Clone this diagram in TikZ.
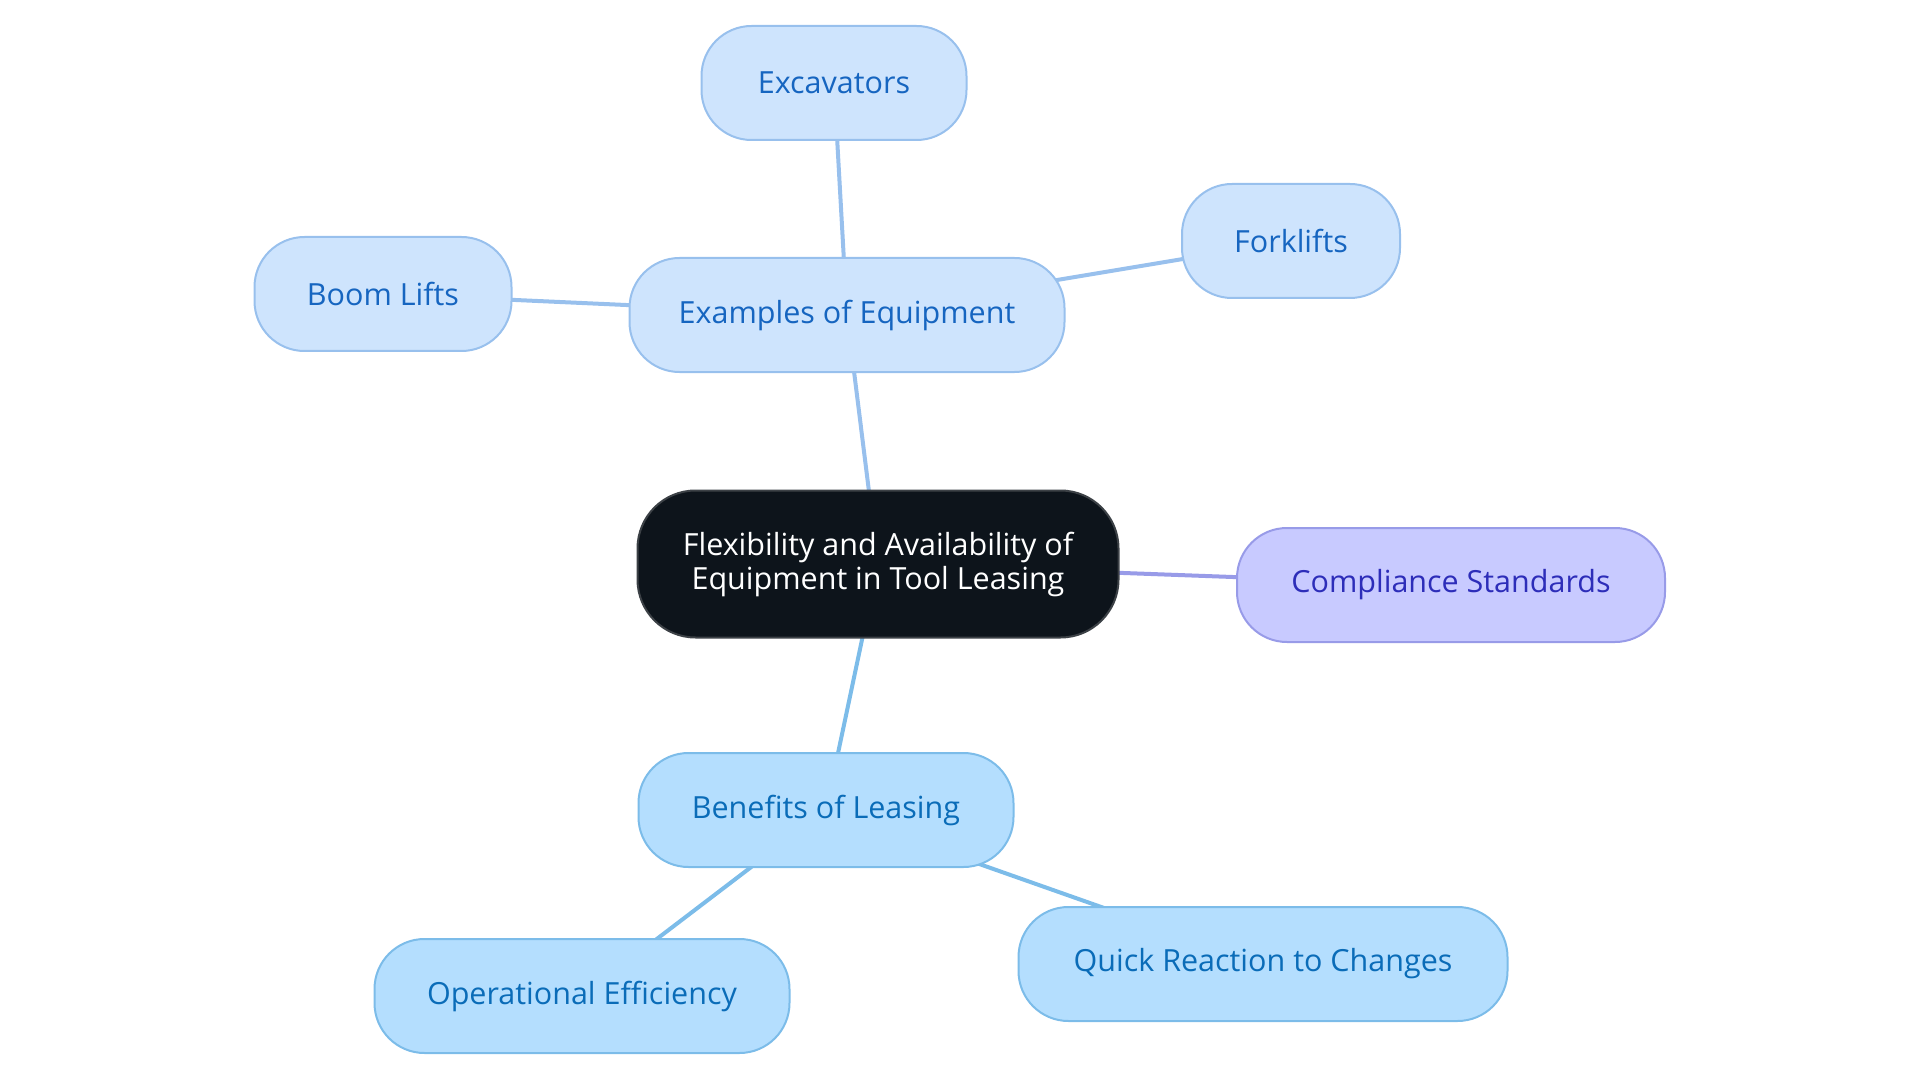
\documentclass[tikz,border=0pt]{standalone}
\usepackage{fontspec}
\setmainfont{Open Sans}
\usepackage{tikz}
\usetikzlibrary{backgrounds}
\usepackage{xcolor}
\definecolor{rootfill}{RGB}{13,20,27}
\definecolor{rootline}{RGB}{60,65,70}
\definecolor{eqfill}{RGB}{206,228,253}
\definecolor{eqline}{RGB}{152,192,237}
\definecolor{eqtext}{RGB}{22,101,192}
\definecolor{befill}{RGB}{180,222,254}
\definecolor{beline}{RGB}{124,188,233}
\definecolor{betext}{RGB}{10,108,184}
\definecolor{cofill}{RGB}{200,202,255}
\definecolor{coline}{RGB}{152,155,232}
\definecolor{cotext}{RGB}{45,45,185}
\tikzstyle{topic} = [rounded corners=50pt, line width=2pt, minimum height=114pt, inner sep=0pt, font=\fontsize{30.5}{34}\selectfont]
\tikzstyle{root} = [topic, rounded corners=58pt, fill=rootfill, draw=rootline, text=white, minimum height=147pt, align=center]
\tikzstyle{equip} = [topic, fill=eqfill, draw=eqline, text=eqtext]
\tikzstyle{benefit} = [topic, fill=befill, draw=beline, text=betext]
\tikzstyle{comply} = [topic, fill=cofill, draw=coline, text=cotext]
\tikzstyle{link} = [line width=4pt]

\begin{document}
\begin{tikzpicture}[x=1pt, y=-1pt]
\useasboundingbox (0,0) rectangle (1920,1083);

% Centre of the map
\node [root, minimum width=481pt] (flex) at (878,564) {Flexibility and Availability of\\Equipment in Tool Leasing};

% First branch
\node [equip, minimum width=435pt] (examples) at (847,315) {Examples of Equipment};
\node [equip, minimum width=265pt] (excavators) at (834,83) {Excavators};
\node [equip, minimum width=218pt] (forklifts) at (1291,241) {Forklifts};
\node [equip, minimum width=257pt] (boomlifts) at (383,294) {Boom Lifts};

% Second branch
\node [comply, minimum width=428pt] (compliance) at (1451,585) {Compliance Standards};

% Third branch
\node [benefit, minimum width=375pt] (benefits) at (826,810) {Benefits of Leasing};
\node [benefit, minimum width=415pt] (operational) at (582,996) {Operational Efficiency};
\node [benefit, minimum width=489pt] (quick) at (1263,964) {Quick Reaction to Changes};

% Links behind the boxes
\begin{scope}[on background layer]
\draw [link, eqline] (flex.center) -- (examples.center);
\draw [link, eqline] (examples.center) -- (excavators.center);
\draw [link, eqline] (examples.center) -- (forklifts.center);
\draw [link, eqline] (examples.center) -- (boomlifts.center);
\draw [link, coline] (flex.center) -- (compliance.center);
\draw [link, beline] (flex.center) -- (benefits.center);
\draw [link, beline] (benefits.center) -- (operational.center);
\draw [link, beline] (benefits.center) -- (quick.center);
\end{scope}

\end{tikzpicture}
\end{document}
